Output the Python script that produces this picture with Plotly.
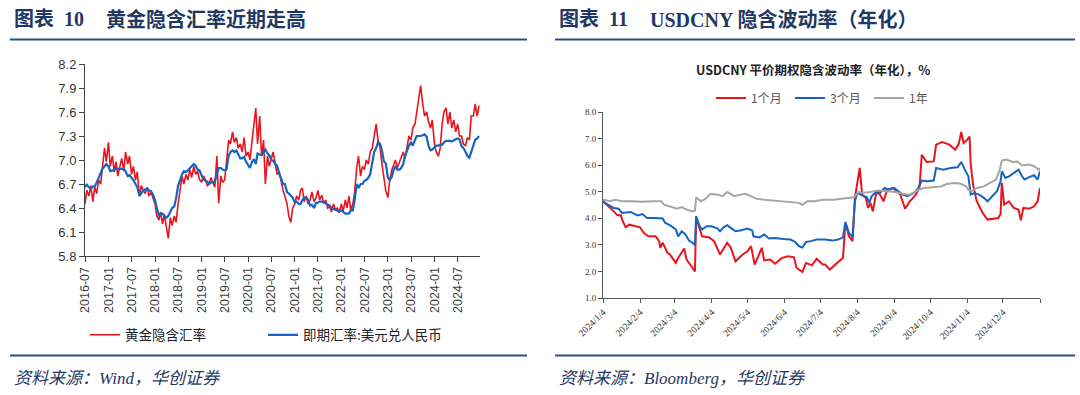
import pandas as pd
import plotly.graph_objects as go

# ---------------- Left chart: 黄金隐含汇率 vs 即期汇率 (semi-monthly readings) ----------------
gold_start = "2016-07-01"
gold_implied_fx = [
    # 2016 H2
    6.45, 6.62, 6.55, 6.68, 6.48, 6.66, 6.58, 6.75, 6.70, 6.92, 7.15, 6.98,
    # 2017
    7.22, 6.92, 7.05, 6.85, 6.98, 6.80, 6.92, 7.02, 6.86, 7.10, 6.95, 7.05,
    6.82, 6.92, 6.75, 6.85, 6.55, 6.68, 6.62, 6.58, 6.66, 6.55, 6.60, 6.52,
    # 2018
    6.45, 6.30, 6.25, 6.35, 6.20, 6.32, 6.12, 6.02, 6.28, 6.18, 6.30, 6.22,
    6.45, 6.62, 6.80, 6.70, 6.82, 6.75, 6.88, 6.78, 6.92, 6.82, 6.86, 6.76,
    # 2019
    6.72, 6.80, 6.75, 6.68, 6.70, 6.78, 6.72, 6.66, 7.05, 6.46, 6.80, 6.72,
    6.75, 6.95, 7.25, 7.20, 7.35, 7.22, 7.28, 7.15, 7.20, 7.10, 7.28, 7.05,
    # 2020
    7.10, 7.00, 7.25, 7.40, 7.65, 7.20, 7.55, 7.05, 7.25, 6.70, 7.05, 6.92,
    7.02, 7.10, 6.95, 6.82, 6.85, 6.72, 6.62, 6.55, 6.45, 6.30, 6.22, 6.40,
    # 2021
    6.45, 6.55, 6.50, 6.62, 6.65, 6.48, 6.55, 6.45, 6.50, 6.60, 6.48, 6.52,
    6.62, 6.50, 6.56, 6.46, 6.50, 6.40, 6.42, 6.35, 6.45, 6.38, 6.40, 6.34,
    # 2022
    6.45, 6.36, 6.50, 6.40, 6.55, 6.38, 6.45, 6.60, 6.90, 7.05, 6.80, 6.92,
    6.88, 7.00, 6.95, 7.10, 7.15, 7.30, 7.45, 7.25, 7.15, 6.95, 6.80, 6.62,
    # 2023
    6.53, 6.75, 6.88, 6.95, 7.00, 6.90, 6.98, 7.05, 7.10, 7.02, 7.20, 7.30,
    7.25, 7.40, 7.45, 7.60, 7.75, 7.93, 7.70, 7.55, 7.60, 7.48, 7.40, 7.50,
    # 2024
    7.20, 7.10, 7.05, 7.15, 7.45, 7.60, 7.65, 7.45, 7.60, 7.40, 7.50, 7.35,
    7.45, 7.30, 7.30, 7.20, 7.18, 7.28, 7.25, 7.55, 7.55, 7.70, 7.55, 7.68,
]
spot_usdcny = [
    # 2016 H2
    6.66, 6.69, 6.66, 6.64, 6.67, 6.67, 6.72, 6.77, 6.82, 6.89, 6.92, 6.95,
    # 2017
    6.92, 6.86, 6.87, 6.87, 6.90, 6.89, 6.89, 6.89, 6.89, 6.86, 6.80, 6.81,
    6.78, 6.75, 6.70, 6.66, 6.55, 6.58, 6.62, 6.63, 6.64, 6.62, 6.61, 6.57,
    # 2018
    6.50, 6.40, 6.31, 6.33, 6.33, 6.30, 6.28, 6.30, 6.35, 6.40, 6.42, 6.52,
    6.68, 6.75, 6.82, 6.86, 6.85, 6.87, 6.90, 6.92, 6.95, 6.93, 6.88, 6.87,
    # 2019
    6.80, 6.76, 6.74, 6.73, 6.70, 6.72, 6.72, 6.73, 6.82, 6.90, 6.90, 6.88,
    6.87, 6.88, 7.05, 7.10, 7.12, 7.10, 7.12, 7.08, 7.02, 7.02, 7.04, 6.98,
    # 2020
    6.93, 6.90, 6.98, 7.01, 6.95, 7.08, 7.07, 7.06, 7.10, 7.13, 7.08, 7.06,
    7.00, 6.99, 6.95, 6.93, 6.83, 6.78, 6.70, 6.70, 6.60, 6.58, 6.55, 6.53,
    # 2021
    6.47, 6.48, 6.45, 6.45, 6.50, 6.53, 6.53, 6.50, 6.43, 6.44, 6.40, 6.46,
    6.47, 6.48, 6.48, 6.47, 6.46, 6.45, 6.43, 6.40, 6.39, 6.38, 6.37, 6.36,
    # 2022
    6.37, 6.35, 6.33, 6.33, 6.33, 6.37, 6.37, 6.50, 6.70, 6.65, 6.70, 6.70,
    6.74, 6.75, 6.78, 6.82, 6.95, 7.10, 7.15, 7.22, 7.20, 7.12, 6.98, 6.96,
    # 2023
    6.78, 6.75, 6.79, 6.88, 6.92, 6.88, 6.88, 6.90, 6.95, 7.05, 7.12, 7.18,
    7.22, 7.18, 7.25, 7.30, 7.30, 7.30, 7.31, 7.32, 7.29, 7.18, 7.12, 7.13,
    # 2024
    7.16, 7.18, 7.18, 7.19, 7.19, 7.22, 7.24, 7.24, 7.24, 7.23, 7.25, 7.26,
    7.27, 7.26, 7.17, 7.15, 7.10, 7.05, 7.03, 7.10, 7.20, 7.25, 7.27, 7.30,
]
left_y_ticks = [5.8, 6.1, 6.4, 6.7, 7.0, 7.3, 7.6, 7.9, 8.2]

# ---------------- Right chart: USDCNY ATM implied vol (%) ----------------
vol1m_dates = [
    "2024-01-04", "2024-01-09", "2024-01-13", "2024-01-16", "2024-01-19", "2024-01-20", "2024-01-23", "2024-01-26", "2024-01-31",
    "2024-02-04", "2024-02-07", "2024-02-11", "2024-02-17", "2024-02-20", "2024-02-21", "2024-02-23", "2024-02-27", "2024-02-29",
    "2024-03-05", "2024-03-07", "2024-03-12", "2024-03-14", "2024-03-17", "2024-03-20", "2024-03-21", "2024-03-22", "2024-03-24", "2024-03-27",
    "2024-04-02", "2024-04-06", "2024-04-11", "2024-04-17", "2024-04-20", "2024-04-24", "2024-04-30",
    "2024-05-04", "2024-05-07", "2024-05-10", "2024-05-13", "2024-05-16", "2024-05-18", "2024-05-23", "2024-05-27",
    "2024-06-02", "2024-06-07", "2024-06-12", "2024-06-14", "2024-06-19", "2024-06-22", "2024-06-27",
    "2024-07-01", "2024-07-06", "2024-07-08", "2024-07-12", "2024-07-18", "2024-07-23", "2024-07-25", "2024-07-28", "2024-07-31",
    "2024-08-02", "2024-08-06", "2024-08-08", "2024-08-11", "2024-08-13", "2024-08-15", "2024-08-17", "2024-08-20", "2024-08-23", "2024-08-26", "2024-08-29",
    "2024-09-03", "2024-09-09", "2024-09-13", "2024-09-17", "2024-09-22", "2024-09-25", "2024-09-27",
    "2024-10-01", "2024-10-07", "2024-10-09", "2024-10-14", "2024-10-20", "2024-10-25", "2024-10-28", "2024-10-30",
    "2024-11-01", "2024-11-04", "2024-11-06", "2024-11-07", "2024-11-09", "2024-11-12", "2024-11-17", "2024-11-21", "2024-11-26", "2024-11-30",
    "2024-12-02", "2024-12-03", "2024-12-05", "2024-12-09", "2024-12-13", "2024-12-17", "2024-12-19", "2024-12-21", "2024-12-26", "2024-12-30",
    "2025-01-02", "2025-01-04",
]
vol1m = [
    4.65, 4.45, 4.26, 4.11, 4.11, 3.95, 3.66, 3.76, 3.70,
    3.66, 3.45, 3.32, 3.32, 3.14, 2.89, 3.08, 2.70, 2.64,
    2.32, 2.51, 2.86, 2.45, 2.26, 2.07, 2.00, 4.01, 3.76, 3.32,
    3.28, 3.14, 2.64, 3.08, 2.89, 2.38, 2.64,
    2.76, 2.95, 2.26, 2.57, 2.89, 2.42, 2.45, 2.29,
    2.51, 2.57, 2.53, 2.14, 1.98, 2.32, 2.23,
    2.48, 2.26, 2.26, 2.07, 2.32, 2.51, 3.83, 3.32, 3.14,
    4.77, 5.90, 4.89, 4.77, 4.39, 4.58, 4.26, 5.00, 4.89, 4.64, 5.08,
    5.14, 4.89, 4.36, 4.64, 4.89, 5.14, 6.39,
    6.12, 6.14, 6.77, 6.87, 6.77, 6.58, 6.80, 7.25,
    6.83, 6.95, 7.08, 6.02, 5.24, 4.64, 4.20, 3.95, 3.99, 4.01,
    4.16, 5.33, 4.51, 4.64, 4.39, 4.33, 3.92, 4.39, 4.36, 4.45,
    4.64, 5.14,
]
vol3m_dates = [
    "2024-01-04", "2024-01-09", "2024-01-13", "2024-01-17", "2024-01-20", "2024-01-27",
    "2024-02-02", "2024-02-06", "2024-02-10", "2024-02-17", "2024-02-23", "2024-02-25", "2024-02-29",
    "2024-03-05", "2024-03-07", "2024-03-10", "2024-03-13", "2024-03-16", "2024-03-19", "2024-03-21", "2024-03-22", "2024-03-25", "2024-03-27", "2024-03-31",
    "2024-04-04", "2024-04-09", "2024-04-11", "2024-04-14", "2024-04-17", "2024-04-20", "2024-04-24", "2024-04-28",
    "2024-05-04", "2024-05-08", "2024-05-09", "2024-05-14", "2024-05-18", "2024-05-22", "2024-05-27",
    "2024-06-03", "2024-06-09", "2024-06-13", "2024-06-16", "2024-06-19", "2024-06-22", "2024-06-26",
    "2024-07-01", "2024-07-08", "2024-07-14", "2024-07-19", "2024-07-23", "2024-07-25", "2024-07-28", "2024-07-31",
    "2024-08-02", "2024-08-04", "2024-08-08", "2024-08-12", "2024-08-14", "2024-08-16", "2024-08-20", "2024-08-23", "2024-08-27", "2024-08-30",
    "2024-09-04", "2024-09-07", "2024-09-11", "2024-09-15", "2024-09-19", "2024-09-22", "2024-09-24", "2024-09-27",
    "2024-10-01", "2024-10-07", "2024-10-09", "2024-10-15", "2024-10-21", "2024-10-27", "2024-10-30",
    "2024-11-02", "2024-11-05", "2024-11-07", "2024-11-10", "2024-11-14", "2024-11-18", "2024-11-21", "2024-11-25", "2024-11-29",
    "2024-12-02", "2024-12-03", "2024-12-06", "2024-12-09", "2024-12-13", "2024-12-17", "2024-12-20", "2024-12-22", "2024-12-26", "2024-12-30",
    "2025-01-02", "2025-01-04",
]
vol3m = [
    4.62, 4.50, 4.39, 4.36, 4.20, 4.24,
    4.11, 4.16, 4.01, 4.01, 3.99, 3.83, 3.74,
    3.58, 3.32, 3.51, 3.39, 3.16, 3.08, 2.99, 4.08, 3.70, 3.58, 3.70,
    3.70, 3.61, 3.51, 3.66, 3.74, 3.64, 3.51, 3.54,
    3.61, 3.54, 3.32, 3.28, 3.39, 3.24, 3.26,
    3.22, 3.20, 3.11, 2.95, 2.90, 3.11, 3.14,
    3.20, 3.20, 3.16, 3.20, 3.28, 3.86, 3.45, 3.29,
    4.64, 4.95, 4.86, 4.79, 4.58, 4.83, 5.02, 4.96, 5.14, 5.08,
    5.14, 5.02, 4.89, 4.83, 4.92, 5.02, 5.14, 5.42,
    5.39, 5.42, 5.89, 5.83, 5.89, 5.92, 6.12,
    5.83, 5.58, 4.89, 4.95, 4.89, 4.77, 4.64, 4.83, 5.02,
    5.39, 5.77, 5.52, 5.58, 5.70, 5.83, 5.58, 5.46, 5.55, 5.62,
    5.46, 5.77,
]
vol1y_dates = [
    "2024-01-04", "2024-01-10", "2024-01-14", "2024-01-20", "2024-01-28",
    "2024-02-06", "2024-02-14", "2024-02-22", "2024-02-24", "2024-02-29",
    "2024-03-06", "2024-03-10", "2024-03-14", "2024-03-19", "2024-03-21", "2024-03-22", "2024-03-26", "2024-03-30",
    "2024-04-03", "2024-04-09", "2024-04-13", "2024-04-17", "2024-04-23", "2024-04-28",
    "2024-05-02", "2024-05-07", "2024-05-11", "2024-05-18", "2024-05-25",
    "2024-06-02", "2024-06-09", "2024-06-16", "2024-06-19", "2024-06-23", "2024-06-29",
    "2024-07-06", "2024-07-15", "2024-07-24",
    "2024-08-01", "2024-08-05", "2024-08-09", "2024-08-15", "2024-08-22", "2024-08-29",
    "2024-09-05", "2024-09-11", "2024-09-16", "2024-09-20", "2024-09-24", "2024-09-29",
    "2024-10-06", "2024-10-13", "2024-10-18", "2024-10-24", "2024-10-29",
    "2024-11-03", "2024-11-05", "2024-11-08", "2024-11-12", "2024-11-18", "2024-11-23", "2024-11-28",
    "2024-12-01", "2024-12-03", "2024-12-07", "2024-12-12", "2024-12-16", "2024-12-20", "2024-12-26", "2024-12-30",
    "2025-01-03", "2025-01-04",
]
vol1y = [
    4.70, 4.64, 4.70, 4.64, 4.64,
    4.62, 4.64, 4.64, 4.51, 4.45,
    4.36, 4.42, 4.33, 4.26, 4.29, 4.79, 4.64, 4.74,
    4.92, 4.89, 4.83, 4.99, 4.83, 4.89,
    4.92, 4.83, 4.74, 4.70, 4.67,
    4.64, 4.62, 4.58, 4.51, 4.64, 4.64,
    4.70, 4.70, 4.74,
    4.79, 4.99, 4.96, 4.99, 5.05, 5.02,
    4.99, 4.92, 4.89, 4.95, 5.08, 5.14,
    5.17, 5.20, 5.29, 5.33, 5.31,
    5.20, 5.08, 5.02, 5.14, 5.20, 5.33, 5.45,
    5.77, 6.17, 6.21, 6.12, 6.14, 5.99, 6.02, 5.96,
    5.83, 5.89,
]
right_tick_dates = [
    "2024-01-04", "2024-02-04", "2024-03-04", "2024-04-04", "2024-05-04", "2024-06-04", "2024-07-04",
    "2024-08-04", "2024-09-04", "2024-10-04", "2024-11-04", "2024-12-04", "2025-01-04",
]
right_tick_text = [
    "2024/1/4", "2024/2/4", "2024/3/4", "2024/4/4", "2024/5/4", "2024/6/4", "2024/7/4",
    "2024/8/4", "2024/9/4", "2024/10/4", "2024/11/4", "2024/12/4", "",
]
right_y_ticks = [1, 2, 3, 4, 5, 6, 7, 8]

# ---------------- helpers (pixel -> paper) ----------------
W, H = 1080, 395
def px(x):
    return x / W
def py(y):
    return 1 - y / H

CJK = "Noto Sans CJK SC"
SERIF_CJK = "Liberation Serif, 'Times New Roman', Noto Sans CJK SC"
NAVY = "#1F3864"
RULE = "#2B4F81"
RED = "#E8141E"
BLUE = "#1565C0"
GRAY = "#A6A6A6"

gold_dates = pd.date_range(gold_start, periods=len(gold_implied_fx), freq="SMS")

fig = go.Figure()
fig.add_trace(go.Scatter(x=gold_dates, y=gold_implied_fx, mode="lines", name="黄金隐含汇率",
                         line=dict(color=RED, width=1.6), xaxis="x", yaxis="y", legend="legend"))
fig.add_trace(go.Scatter(x=gold_dates, y=spot_usdcny, mode="lines", name="即期汇率:美元兑人民币",
                         line=dict(color=BLUE, width=2.2), xaxis="x", yaxis="y", legend="legend"))

fig.add_trace(go.Scatter(x=vol1m_dates, y=vol1m, mode="lines", name="1个月",
                         line=dict(color=RED, width=2), xaxis="x2", yaxis="y2", legend="legend2"))
fig.add_trace(go.Scatter(x=vol3m_dates, y=vol3m, mode="lines", name="3个月",
                         line=dict(color=BLUE, width=2), xaxis="x2", yaxis="y2", legend="legend2"))
fig.add_trace(go.Scatter(x=vol1y_dates, y=vol1y, mode="lines", name="1年",
                         line=dict(color=GRAY, width=2), xaxis="x2", yaxis="y2", legend="legend2"))

axis_common = dict(showgrid=False, zeroline=False, showline=True, ticks="outside", automargin=False)

fig.update_layout(
    template="none",
    width=W, height=H,
    margin=dict(l=0, r=0, t=0, b=0, pad=0, autoexpand=False),
    paper_bgcolor="white", plot_bgcolor="white",
    xaxis=dict(**axis_common, domain=[px(85), px(480)], anchor="y", type="date",
               range=["2016-07-01", "2024-12-23"], tick0="2016-07-01", dtick="M6",
               tickformat="%Y-%m", tickangle=-90, ticklen=5, linecolor="#404040",
               tickcolor="#404040", linewidth=1,
               tickfont=dict(family="Arial, Liberation Sans", size=12.5, color="#404040")),
    yaxis=dict(**axis_common, domain=[py(256), py(64)], anchor="x",
               range=[5.8, 8.2], tickvals=left_y_ticks,
               ticktext=[f"{v:.1f}" for v in left_y_ticks], ticklen=5,
               linecolor="#404040", tickcolor="#404040", linewidth=1,
               tickfont=dict(family="Arial, Liberation Sans", size=13, color="#333333")),
    xaxis2=dict(**axis_common, domain=[px(603), px(1040)], anchor="y2", type="date",
                range=["2024-01-04", "2025-01-04"], tickvals=right_tick_dates,
                ticktext=right_tick_text, tickangle=-45, ticklen=4,
                linecolor="#595959", tickcolor="#595959", linewidth=1,
                tickfont=dict(family="Liberation Serif, Times New Roman", size=9.5, color="#333333")),
    yaxis2=dict(**axis_common, domain=[py(298), py(112)], anchor="x2",
                range=[1, 8], tickvals=right_y_ticks,
                ticktext=[f"{v:.1f}" for v in right_y_ticks], ticklen=4,
                linecolor="#595959", tickcolor="#595959", linewidth=1,
                tickfont=dict(family="Liberation Serif, Times New Roman", size=9, color="#333333")),
    legend=dict(orientation="h", x=px(85), y=py(335), xanchor="left", yanchor="middle",
                font=dict(family=CJK, size=13.5, color="#222222"),
                entrywidth=133, entrywidthmode="pixels", bgcolor="rgba(0,0,0,0)"),
    legend2=dict(orientation="h", x=px(711), y=py(98), xanchor="left", yanchor="middle",
                 font=dict(family=CJK, size=12, color="#595959"),
                 entrywidth=34, entrywidthmode="pixels", bgcolor="rgba(0,0,0,0)"),
    showlegend=True,
)

# Titles
annos = [
    dict(text="<b>图表\u00a0\u00a010</b>", x=px(12), y=py(19), xanchor="left", yanchor="middle",
         font=dict(family=SERIF_CJK, size=20, color=NAVY)),
    dict(text="<b>黄金隐含汇率近期走高</b>", x=px(104), y=py(19), xanchor="left", yanchor="middle",
         font=dict(family=SERIF_CJK, size=20, color=NAVY)),
    dict(text="<b>图表\u00a0\u00a011</b>", x=px(557), y=py(19), xanchor="left", yanchor="middle",
         font=dict(family=SERIF_CJK, size=20, color=NAVY)),
    dict(text="<b>USDCNY 隐含波动率（年化）</b>", x=px(648), y=py(19), xanchor="left", yanchor="middle",
         font=dict(family=SERIF_CJK, size=20, color=NAVY)),
    dict(text="<b>USDCNY 平价期权隐含波动率（年化），%</b>", x=px(813), y=py(69), xanchor="center",
         yanchor="middle", font=dict(family=CJK, size=12.5, color="#222222")),
    dict(text="<i>资料来源：Wind，华创证券</i>", x=px(12), y=py(378), xanchor="left", yanchor="middle",
         font=dict(family=SERIF_CJK, size=17, color=NAVY)),
    dict(text="<i>资料来源：Bloomberg，华创证券</i>", x=px(557), y=py(378), xanchor="left", yanchor="middle",
         font=dict(family=SERIF_CJK, size=17, color=NAVY)),
]
for a in annos:
    fig.add_annotation(xref="paper", yref="paper", showarrow=False, **a)

# Horizontal rules
for (x0, x1) in [(10, 527), (555, 1075)]:
    for y in (39.5, 355.5):
        fig.add_shape(type="line", xref="paper", yref="paper", x0=px(x0), x1=px(x1),
                      y0=py(y), y1=py(y), line=dict(color=RULE, width=2.2))

fig.write_html("out.html", config={"displayModeBar": False},
               post_script="document.body.style.margin='0';document.body.style.overflow='hidden';")
